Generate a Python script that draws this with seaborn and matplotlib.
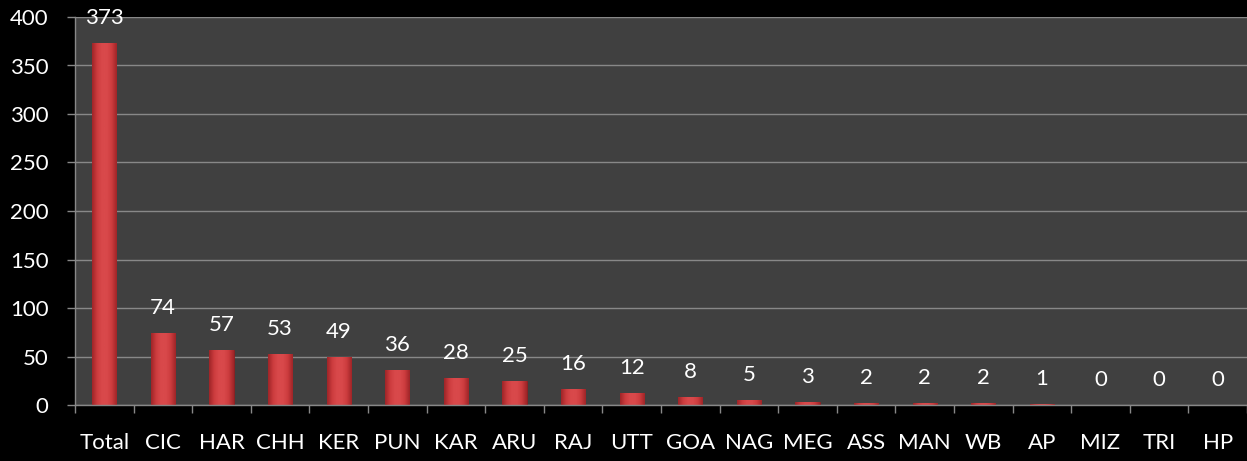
import matplotlib
matplotlib.use("Agg")
import matplotlib.pyplot as plt
import seaborn as sns
import pandas as pd
import numpy as np
from matplotlib.colors import LinearSegmentedColormap

categories = ["Total", "CIC", "HAR", "CHH", "KER", "PUN", "KAR", "ARU", "RAJ", "UTT",
              "GOA", "NAG", "MEG", "ASS", "MAN", "WB", "AP", "MIZ", "TRI", "HP"]
values = [373, 74, 57, 53, 49, 36, 28, 25, 16, 12, 8, 5, 3, 2, 2, 2, 1, 0, 0, 0]
y_ticks = [0, 50, 100, 150, 200, 250, 300, 350, 400]

sns.set_theme(style="dark")
plt.rcParams['font.family'] = ['Lato', 'DejaVu Sans']

df = pd.DataFrame({"cat": categories, "val": values})

fig = plt.figure(figsize=(12.47, 4.61), dpi=100, facecolor="black")
ax = fig.add_axes([75/1247, 1-405/461, 1-75/1247, (405-17)/461])
ax.set_facecolor("#404040")

sns.barplot(data=df, x="cat", y="val", ax=ax, color="#cc3a3c", width=0.41,
            saturation=1, edgecolor="#8a1e20", linewidth=0.6)

ax.set_ylim(0, 400)
ax.set_xlim(-0.5, len(categories) - 0.5)

# horizontal shading inside each bar (bevel look)
cmap = LinearSegmentedColormap.from_list(
    "bev", ["#9e2427", "#cc3c3e", "#d9494b", "#d9494b", "#cc3c3e", "#9e2427"])
grad = np.linspace(0, 1, 64).reshape(1, -1)
for p in list(ax.patches):
    if p.get_height() <= 0:
        continue
    im = ax.imshow(grad, cmap=cmap, aspect="auto", interpolation="bicubic",
                   extent=(p.get_x(), p.get_x() + p.get_width(), 0, p.get_height()),
                   zorder=p.get_zorder() + 0.1)
    im.set_clip_path(p)
ax.set_xlim(-0.5, len(categories) - 0.5)
ax.set_ylim(0, 400)

ax.set_yticks(y_ticks)
ax.yaxis.grid(True, color="#888888", linewidth=1.0)
ax.xaxis.grid(False)
ax.set_axisbelow(True)
ax.set_xlabel("")
ax.set_ylabel("")

for s in ["top", "right"]:
    ax.spines[s].set_visible(False)
for s in ["left", "bottom"]:
    ax.spines[s].set_color("#888888")
    ax.spines[s].set_linewidth(1.0)

ax.tick_params(axis="y", colors="#888888", labelcolor="white", labelsize=16,
               length=6, width=1.0, direction="out", left=True, pad=13)
ax.set_xticks([i - 0.5 for i in range(len(categories) + 1)], minor=True)
ax.tick_params(axis="x", which="minor", colors="#888888", length=6, width=1.0,
               direction="out", bottom=True)
ax.tick_params(axis="x", which="major", length=0, labelcolor="white",
               labelsize=16, pad=20)

for i, v in enumerate(values):
    ax.annotate(str(v), (i, v), xytext=(0, 18), textcoords="offset points",
                ha="center", va="center", color="white", fontsize=16,
                annotation_clip=False)

fig.savefig("out.png", dpi=100, facecolor="black")
